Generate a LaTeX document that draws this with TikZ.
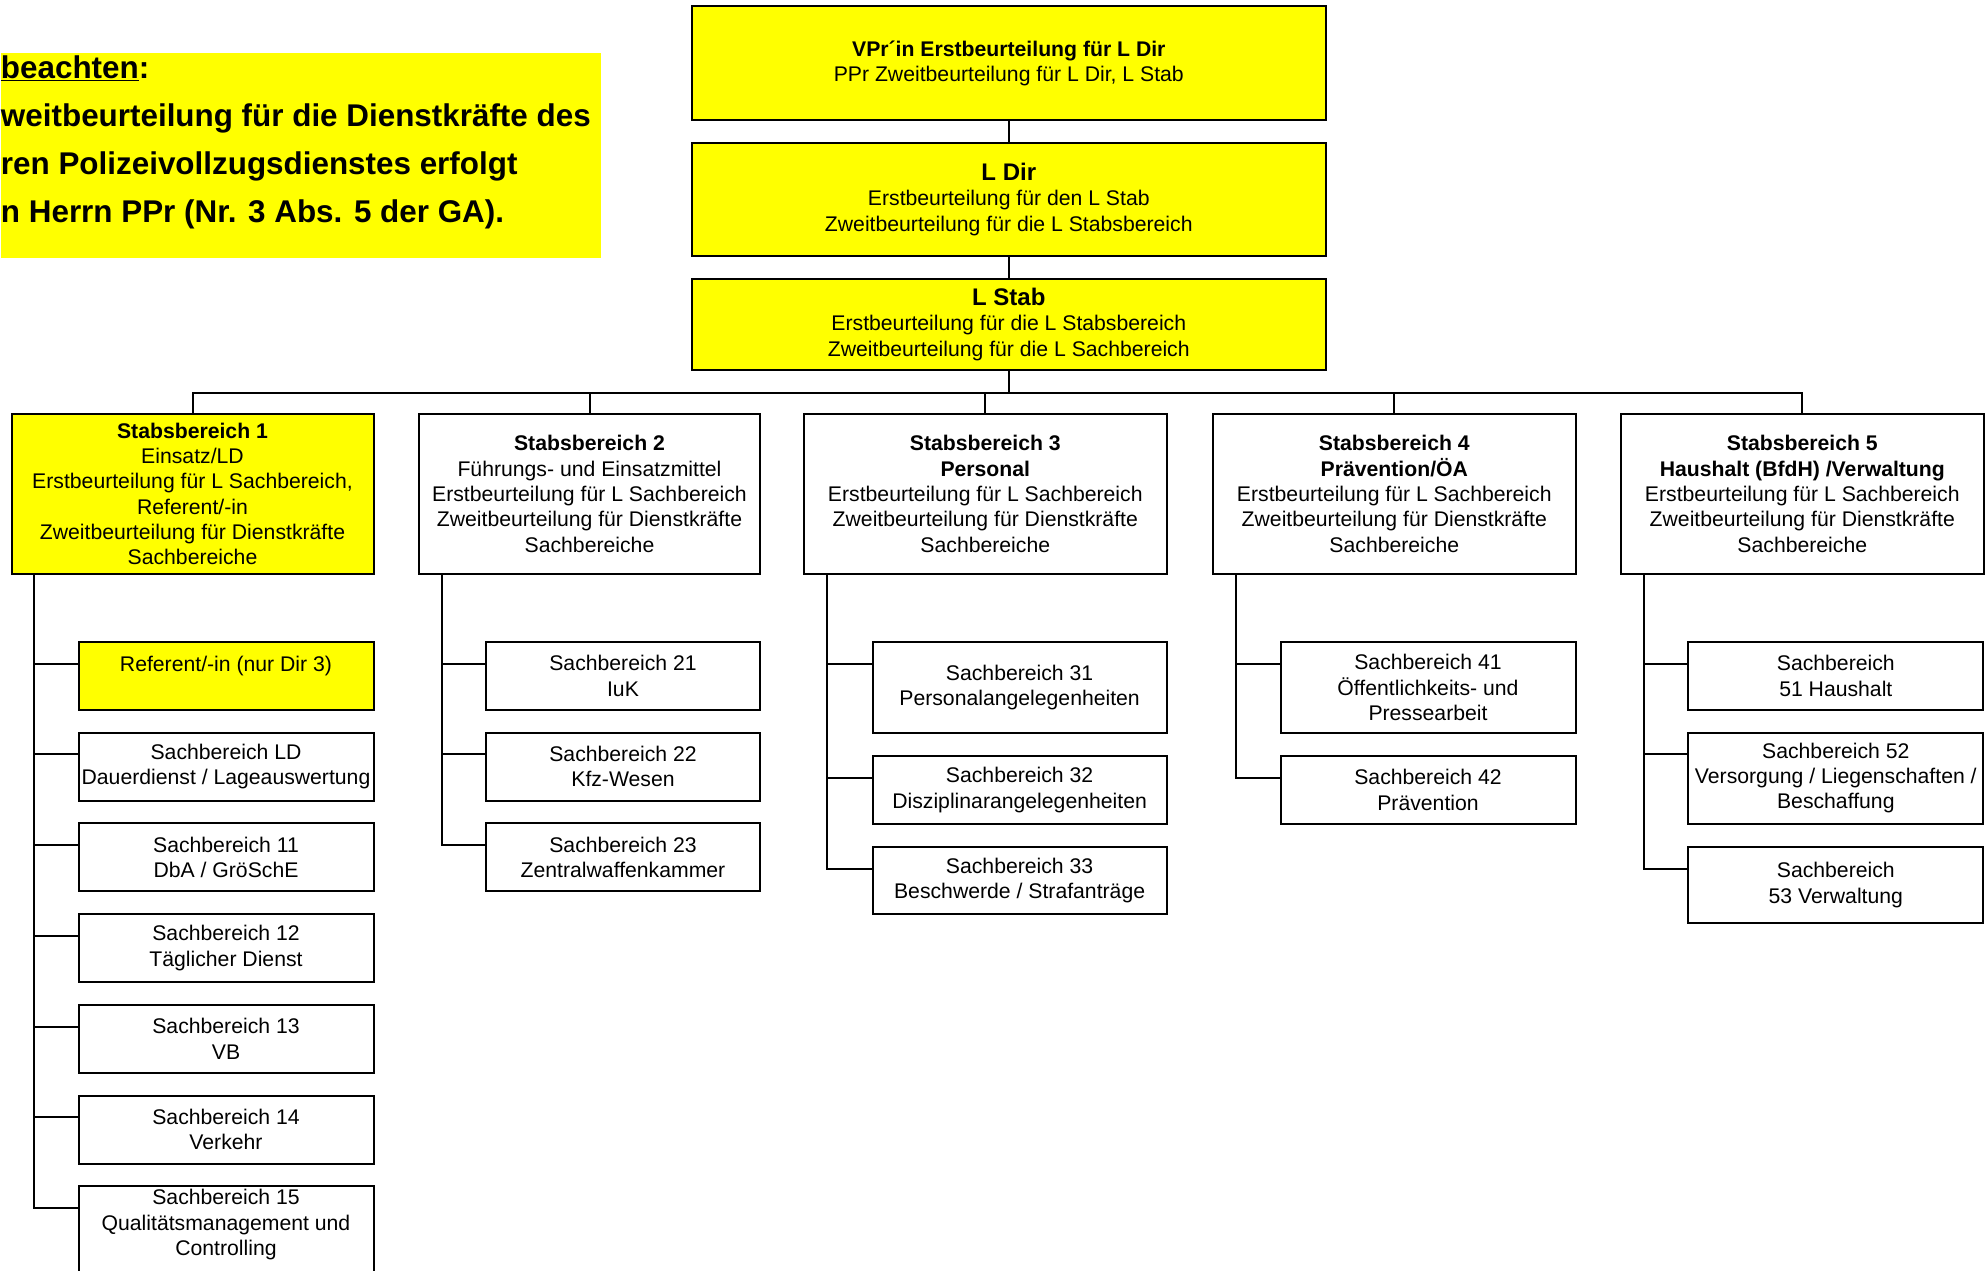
\documentclass[tikz,border=0pt]{standalone}
\usepackage{fontspec}
\setmainfont{Liberation Sans}
\definecolor{yel}{RGB}{255,255,0}
\begin{document}
\begin{tikzpicture}[x=1pt,y=-1pt,line width=2pt,
  box/.style={draw=black,line width=2pt,inner sep=0pt,align=center,
    font=\fontsize{21.2}{25.3}\selectfont},
  ybox/.style={box,fill=yel},
  topw/.style={minimum width=634.4pt},
  sbw/.style={minimum width=362.5pt,minimum height=160pt},
  subw/.style={minimum width=295pt},
  conn/.style={draw=black,line width=2pt}]
\useasboundingbox (0,0) rectangle (1986,1271);

% note
\node[fill=yel,inner sep=0pt,minimum width=600pt,minimum height=205pt,anchor=north west] (note) at (0,52) {};
\node[anchor=west,align=left,inner sep=0pt,font=\fontsize{31.4}{48}\selectfont\bfseries] (notetext) at (0,142)
  {\underline{beachten}:\\weitbeurteilung für die Dienstkräfte des\\ren Polizeivollzugsdienstes erfolgt\\n Herrn PPr (Nr. 3 Abs. 5 der GA).};

% top chain
\node[ybox,topw,minimum height=114pt] (top) at (1008.8,63.3)
  {\textbf{VPr´in Erstbeurteilung für L Dir}\\PPr Zweitbeurteilung für L Dir, L Stab};
\node[ybox,topw,minimum height=113pt] (ldir) at (1008.8,199.5)
  {{\fontsize{24}{27}\selectfont\bfseries L Dir}\\Erstbeurteilung für den L Stab\\Zweitbeurteilung für die L Stabsbereich};
\node[ybox,topw,minimum height=91pt] (lstab) at (1008.8,324.5)
  {{\fontsize{24}{27}\selectfont\bfseries L Stab}\\Erstbeurteilung für die L Stabsbereich\\Zweitbeurteilung für die L Sachbereich};
\coordinate (bus) at (0,392.6);

% Stabsbereiche
\node[ybox,sbw,minimum width=362pt] (sb1) at (192.5,494)
  {\textbf{Stabsbereich 1}\\Einsatz/LD\\Erstbeurteilung für L Sachbereich,\\Referent/-in\\Zweitbeurteilung für Dienstkräfte\\Sachbereiche};
\node[box,sbw,minimum width=341pt] (sb2) at (589.5,494)
  {\textbf{Stabsbereich 2}\\Führungs- und Einsatzmittel\\Erstbeurteilung für L Sachbereich\\Zweitbeurteilung für Dienstkräfte\\Sachbereiche};
\node[box,sbw] (sb3) at (985.3,494)
  {\textbf{Stabsbereich 3}\\\textbf{Personal}\\Erstbeurteilung für L Sachbereich\\Zweitbeurteilung für Dienstkräfte\\Sachbereiche};
\node[box,sbw] (sb4) at (1394.3,494)
  {\textbf{Stabsbereich 4}\\\textbf{Prävention/ÖA}\\Erstbeurteilung für L Sachbereich\\Zweitbeurteilung für Dienstkräfte\\Sachbereiche};
\node[box,sbw] (sb5) at (1802.3,494)
  {\textbf{Stabsbereich 5}\\\textbf{Haushalt (BfdH) /Verwaltung}\\Erstbeurteilung für L Sachbereich\\Zweitbeurteilung für Dienstkräfte\\Sachbereiche};

% column 1
\coordinate (t1) at (34.2,0);
\node[ybox,subw,minimum height=68pt,anchor=north] (ref) at (226,641) {Referent/-in (nur Dir 3)\\~};
\node[box,subw,minimum height=68pt,anchor=north] (s1ld) at (226,731.7) {Sachbereich LD\\Dauerdienst / Lageauswertung};
\node[box,subw,minimum height=68pt,anchor=north] (s11) at (226,822.4) {Sachbereich 11\\DbA / GröSchE};
\node[box,subw,minimum height=68pt,anchor=north] (s12) at (226,913.1) {Sachbereich 12\\Täglicher Dienst};
\node[box,subw,minimum height=68pt,anchor=north] (s13) at (226,1003.8) {Sachbereich 13\\VB};
\node[box,subw,minimum height=68pt,anchor=north] (s14) at (226,1094.5) {Sachbereich 14\\Verkehr};
\node[box,subw,minimum height=98pt,anchor=north] (s15) at (226,1185.2) {Sachbereich 15\\Qualitätsmanagement und\\Controlling\\~};

% column 2
\coordinate (t2) at (442,0);
\node[box,minimum width=274pt,minimum height=68pt,anchor=north] (s21) at (623,641) {Sachbereich 21\\IuK};
\node[box,minimum width=274pt,minimum height=68pt,anchor=north] (s22) at (623,731.7) {Sachbereich 22\\Kfz-Wesen};
\node[box,minimum width=274pt,minimum height=68pt,anchor=north] (s23) at (623,822.4) {Sachbereich 23\\Zentralwaffenkammer};

% column 3
\coordinate (t3) at (827,0);
\node[box,minimum width=294pt,minimum height=91pt,anchor=north] (s31) at (1019.6,641) {Sachbereich 31\\Personalangelegenheiten};
\node[box,minimum width=294pt,minimum height=68pt,anchor=north] (s32) at (1019.6,755) {Sachbereich 32\\Disziplinarangelegenheiten};
\node[box,minimum width=294pt,minimum height=67pt,anchor=north] (s33) at (1019.6,846) {Sachbereich 33\\Beschwerde / Strafanträge};

% column 4
\coordinate (t4) at (1236,0);
\node[box,subw,minimum height=91pt,anchor=north] (s41) at (1428,641) {Sachbereich 41\\Öffentlichkeits- und\\Pressearbeit};
\node[box,subw,minimum height=68pt,anchor=north] (s42) at (1428,755) {Sachbereich 42\\Prävention};

% column 5
\coordinate (t5) at (1644,0);
\node[box,subw,minimum height=68pt,anchor=north] (s51) at (1835.8,641) {Sachbereich\\51 Haushalt};
\node[box,subw,minimum height=91pt,anchor=north] (s52) at (1835.8,731.7) {Sachbereich 52\\Versorgung / Liegenschaften /\\Beschaffung};
\node[box,subw,minimum height=76pt,anchor=north] (s53) at (1835.8,846) {Sachbereich\\53 Verwaltung};

% connectors top
\draw[conn] (top.south) -- (ldir.north);
\draw[conn] (ldir.south) -- (lstab.north);
\foreach \s in {sb1,sb2,sb3,sb4,sb5}
  \draw[conn] (lstab.south) -- (lstab.south |- bus) -| (\s.north);

% branch connectors
\foreach \c in {ref,s1ld,s11,s12,s13,s14,s15}
  \draw[conn] (sb1.south -| t1) |- ([yshift=-22.7pt]\c.north west);
\foreach \c in {s21,s22,s23}
  \draw[conn] (sb2.south -| t2) |- ([yshift=-22.7pt]\c.north west);
\foreach \c in {s31,s32,s33}
  \draw[conn] (sb3.south -| t3) |- ([yshift=-22.7pt]\c.north west);
\foreach \c in {s41,s42}
  \draw[conn] (sb4.south -| t4) |- ([yshift=-22.7pt]\c.north west);
\foreach \c in {s51,s52,s53}
  \draw[conn] (sb5.south -| t5) |- ([yshift=-22.7pt]\c.north west);
\end{tikzpicture}
\end{document}
